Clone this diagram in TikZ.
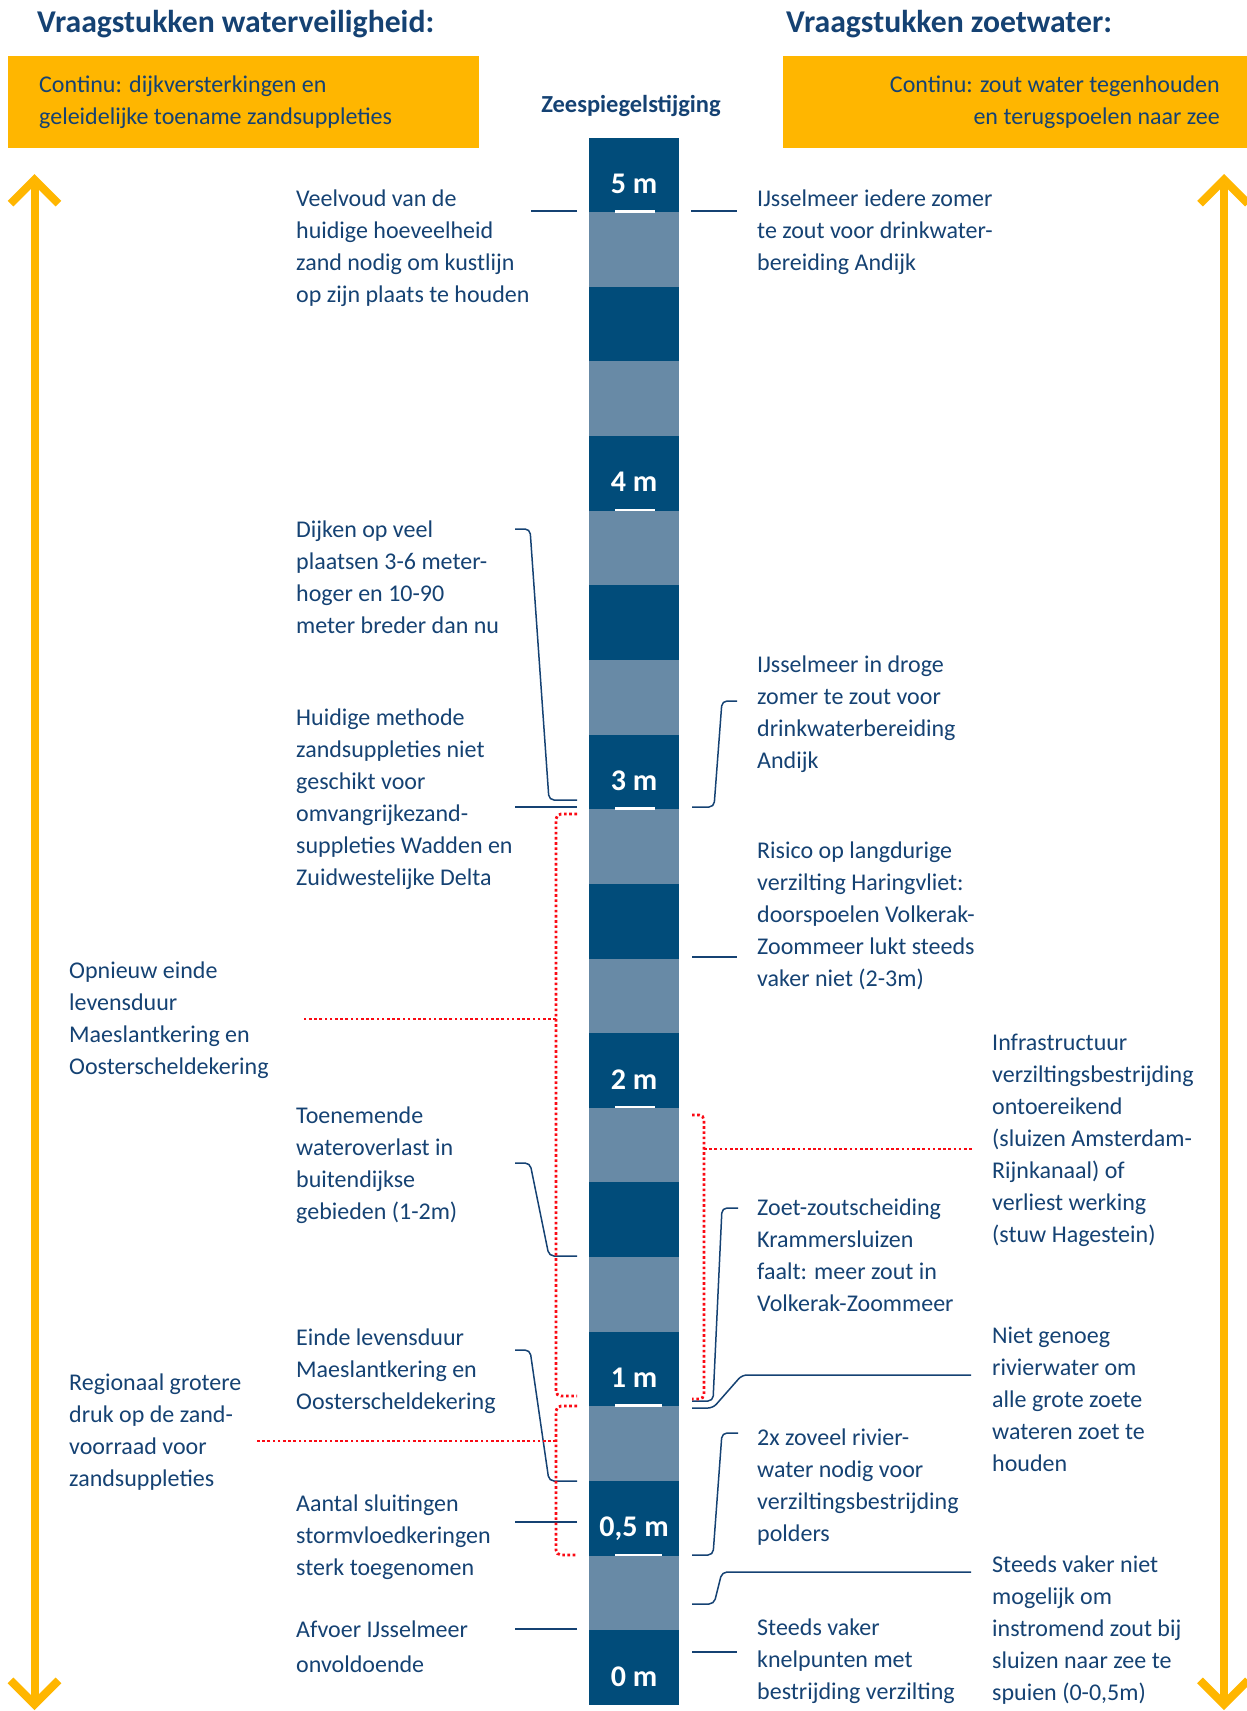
\documentclass[tikz,border=0pt]{standalone}
\usepackage{fontspec}
\setmainfont{Carlito}
\usetikzlibrary{arrows.meta}
\definecolor{lintblauw}{RGB}{21,66,115}
\definecolor{donkerblauw}{RGB}{1,76,122}
\definecolor{grijsblauw}{RGB}{104,138,166}
\definecolor{geel}{RGB}{255,182,0}
\definecolor{rood}{RGB}{250,10,20}
\tikzset{
  kop/.style={font=\fontsize{31.7}{36}\selectfont\bfseries, text=lintblauw, inner sep=0pt},
  vak/.style={fill=geel, inner sep=0pt, anchor=north west},
  tekst/.style={font=\fontsize{24}{32}\selectfont, text=lintblauw, align=left, anchor=base west, inner sep=0pt},
  blok/.style={minimum width=90pt, minimum height=74.64pt, inner sep=0pt},
  maat/.style={font=\fontsize{30}{32}\selectfont\bfseries, text=white, anchor=base, inner sep=0pt},
  lijn/.style={draw=lintblauw, line width=1.5pt, rounded corners=5pt},
  stip/.style={draw=rood, line width=2.8pt, dash pattern=on 2.6pt off 2.6pt, rounded corners=5pt},
  pijl/.style={draw=geel, line width=8pt, {Straight Barb[length=24pt,width=48pt]}-{Straight Barb[length=24pt,width=48pt]}},
}

\begin{document}
\begin{tikzpicture}[x=1pt, y=-1pt]
  \useasboundingbox (0,0) rectangle (1247,1711);

  % koppen en gele vakken
  \node[kop, anchor=base west] (kopL) at (37,32) {Vraagstukken waterveiligheid:};
  \node[kop, anchor=base west] (kopR) at (786,32) {Vraagstukken zoetwater:};
  \node[vak, minimum width=471pt, minimum height=92pt] (vakL) at (8,55.5) {};
  \node[vak, minimum width=464pt, minimum height=92pt] (vakR) at (783,55.5) {};
  % base = basislijn van de laatste regel
  \node[tekst] (contL) at (39,124) {Continu: dijkversterkingen en\\geleidelijke toename zandsuppleties};
  \node[tekst, align=right, anchor=base east] (contR) at (1220,124) {Continu: zout water tegenhouden\\en terugspoelen naar zee};

  % tijdpijlen
  \coordinate (pLb) at (34.5,174);  \coordinate (pLo) at (34.5,1710);
  \coordinate (pRb) at (1224,174);  \coordinate (pRo) at (1224,1710);
  \draw[pijl] (pLb) -- (pLo);
  \draw[pijl] (pRb) -- (pRo);

  % kolom zeespiegelstijging
  \node[kop, font=\fontsize{24.5}{28}\selectfont\bfseries, anchor=base] (zee) at (631,112) {Zeespiegelstijging};
  \foreach \i in {0,...,20}{
    \ifodd\i\relax \def\kleur{grijsblauw}\else \def\kleur{donkerblauw}\fi
    \pgfmathsetmacro\yc{174.82+74.64*\i}
    \node[blok, fill=\kleur] (b\i) at (634,\yc) {};
  }
  \foreach \i/\m in {0/5 m,4/4 m,8/3 m,12/2 m,16/1 m,18/{0,5 m},20/0 m}
    \node[maat] (m\i) at ([yshift=19pt]b\i.south) {\m};
  \foreach \i/\w in {0/40,4/40,8/40,12/40,16/47,18/47}
    \draw[white, line width=2.5pt] ([xshift=-19pt, yshift=1pt]b\i.south) -- ++(\w,0);

  % waterveiligheid
  \node[tekst] (t1) at (296,302.5) {Veelvoud van de\\huidige hoeveelheid\\zand nodig om kustlijn\\op zijn plaats te houden};
  \node[tekst] (t2) at (296,633) {Dijken op veel\\plaatsen 3-6 meter-\\hoger en 10-90\\meter breder dan nu};
  \node[tekst] (t3) at (296,885) {Huidige methode\\zandsuppleties niet\\geschikt voor\\omvangrijkezand-\\suppleties Wadden en\\Zuidwestelijke Delta};
  \node[tekst] (t4) at (69,1074) {Opnieuw einde\\levensduur\\Maeslantkering en\\Oosterscheldekering};
  \node[tekst] (t5) at (296,1219) {Toenemende\\wateroverlast in\\buitendijkse\\gebieden (1-2m)};
  \node[tekst] (t6) at (296,1409.5) {Einde levensduur\\Maeslantkering en\\Oosterscheldekering};
  \node[tekst] (t7) at (69,1486) {Regionaal grotere\\druk op de zand-\\voorraad voor\\zandsuppleties};
  \node[tekst] (t8) at (296,1575) {Aantal sluitingen\\stormvloedkeringen\\sterk toegenomen};
  \node[tekst, font=\fontsize{24}{35}\selectfont] (t9) at (296,1672) {Afvoer IJsselmeer\\onvoldoende};

  % zoetwater
  \node[tekst] (z1) at (757,270.5) {IJsselmeer iedere zomer\\te zout voor drinkwater-\\bereiding Andijk};
  \node[tekst] (z2) at (757,768) {IJsselmeer in droge\\zomer te zout voor\\drinkwaterbereiding\\Andijk};
  \node[tekst] (z3) at (757,986) {Risico op langdurige\\verzilting Haringvliet:\\doorspoelen Volkerak-\\Zoommeer lukt steeds\\vaker niet (2-3m)};
  \node[tekst] (z4) at (992,1242) {Infrastructuur\\verziltingsbestrijding\\ontoereikend\\(sluizen Amsterdam-\\Rijnkanaal) of\\verliest werking\\(stuw Hagestein)};
  \node[tekst] (z5) at (757,1311) {Zoet-zoutscheiding\\Krammersluizen\\faalt: meer zout in\\Volkerak-Zoommeer};
  \node[tekst] (z6) at (992,1471) {Niet genoeg\\rivierwater om\\alle grote zoete\\wateren zoet te\\houden};
  \node[tekst] (z7) at (757,1541) {2x zoveel rivier-\\water nodig voor\\verziltingsbestrijding\\polders};
  \node[tekst] (z8) at (992,1700) {Steeds vaker niet\\mogelijk om\\instromend zout bij\\sluizen naar zee te\\spuien (0-0,5m)};
  \node[tekst] (z9) at (757,1699) {Steeds vaker\\knelpunten met\\bestrijding verzilting};

  % verbindingslijnen links
  \coordinate (l1) at (577,211);  \coordinate (l2) at (577,800);
  \coordinate (l3) at (577,807);  \coordinate (l5) at (577,1256);
  \coordinate (l6) at (577,1481); \coordinate (l8) at (577,1522);
  \coordinate (l9) at (577,1629);
  \draw[lijn] (l1) -- ++(-46,0);
  \draw[lijn] (l2) -- ++(-28,0) -- ++(-19,-271) -- ++(-15,0);
  \draw[lijn] (l3) -- ++(-62,0);
  \draw[lijn] (l5) -- ++(-28,0) -- ++(-19,-93) -- ++(-15,0);
  \draw[lijn] (l6) -- ++(-28,0) -- ++(-19,-131) -- ++(-15,0);
  \draw[lijn] (l8) -- ++(-62,0);
  \draw[lijn] (l9) -- ++(-62,0);

  % verbindingslijnen rechts
  \coordinate (r1) at (691,211);  \coordinate (r2) at (692,807);
  \coordinate (r3) at (692,957);  \coordinate (r5) at (692,1401);
  \coordinate (r6) at (692,1408); \coordinate (r7) at (692,1555);
  \coordinate (r8) at (692,1604); \coordinate (r9) at (692,1652);
  \draw[lijn] (r1) -- ++(46,0);
  \draw[lijn] (r2) -- ++(22,0) -- ++(8,-106) -- ++(15,0);
  \draw[lijn] (r3) -- ++(45,0);
  \draw[lijn] (r5) -- ++(21,0) -- ++(9,-193) -- ++(16,0);
  \draw[lijn] (r6) -- ++(21,0) -- ++(29,-33) -- ++(229,0);
  \draw[lijn] (r7) -- ++(21,0) -- ++(9,-122) -- ++(16,0);
  \draw[lijn] (r8) -- ++(22,0) -- ++(8,-32) -- ++(249,0);
  \draw[lijn] (r9) -- ++(45,0);

  % gestippelde haken
  \coordinate (a1) at (577,814);  \coordinate (a1t) at (556,1019);
  \coordinate (a2) at (577,1406); \coordinate (a2t) at (556,1441);
  \coordinate (a3) at (692,1115); \coordinate (a3t) at (704,1149);
  \draw[stip] (a1) -- ++(-21,0) -- ++(0,582) -- ++(21,0);
  \draw[stip] (a1t) -- ++(-253,0);
  \draw[stip] (a2) -- ++(-21,0) -- ++(0,149) -- ++(21,0);
  \draw[stip] (a2t) -- ++(-300,0);
  \draw[stip] (a3) -- ++(12,0) -- ++(0,284) -- ++(-12,0);
  \draw[stip] (a3t) -- ++(269,0);
\end{tikzpicture}
\end{document}
